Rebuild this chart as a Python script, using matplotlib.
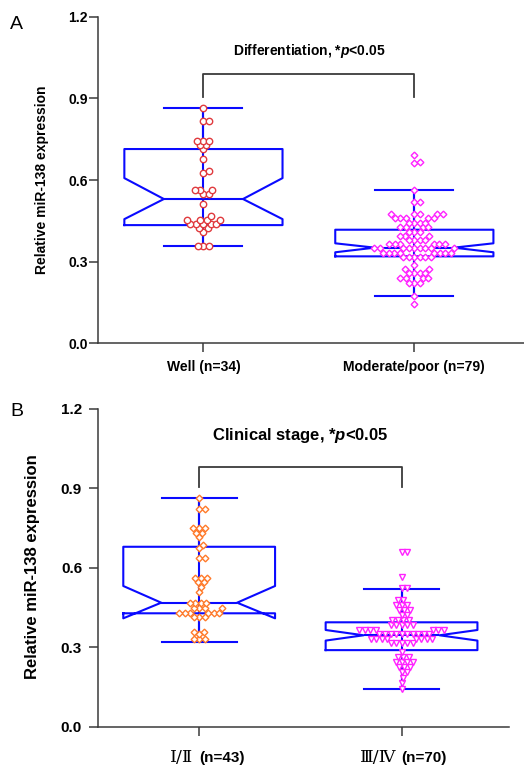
import numpy as np
import matplotlib
matplotlib.use('Agg')
import matplotlib.pyplot as plt

plt.rcParams['font.family'] = ['Liberation Sans', 'DejaVu Sans']
plt.rcParams['mathtext.fontset'] = 'custom'
plt.rcParams['mathtext.it'] = 'Liberation Sans:italic:bold'
plt.rcParams['mathtext.rm'] = 'Liberation Sans:bold'

# ---- data ----
cats_a = ['Well (n=34)', 'Moderate/poor (n=79)']
cats_b_roman = ['Ⅰ/Ⅱ', 'Ⅲ/Ⅳ']
cats_b_n = ['(n=43)', '(n=70)']

well = [0.358, 0.358, 0.358, 0.41, 0.422, 0.422,
        0.438, 0.438, 0.438, 0.438, 0.438,
        0.453, 0.453, 0.453, 0.453, 0.467, 0.512,
        0.547, 0.547, 0.563, 0.563, 0.563,
        0.627, 0.632, 0.677, 0.713, 0.729, 0.729,
        0.745, 0.745, 0.745, 0.818, 0.818, 0.864]

modpoor = [0.143, 0.174,
           0.222, 0.222, 0.222, 0.238, 0.238, 0.238, 0.238,
           0.256, 0.256, 0.256, 0.256, 0.271, 0.271, 0.287,
           0.318, 0.318, 0.318, 0.318, 0.318, 0.318,
           0.333, 0.333, 0.333, 0.333, 0.333, 0.333, 0.333, 0.333,
           0.348, 0.348, 0.348, 0.348, 0.348, 0.348, 0.348, 0.348, 0.348,
           0.364, 0.364, 0.364, 0.364, 0.364, 0.364,
           0.379, 0.379, 0.379, 0.379, 0.394, 0.394, 0.394,
           0.41, 0.41, 0.41, 0.426, 0.426, 0.426, 0.426,
           0.443, 0.443, 0.443, 0.443,
           0.459, 0.459, 0.459, 0.459, 0.459,
           0.474, 0.474, 0.474, 0.474, 0.474,
           0.52, 0.52, 0.563, 0.662, 0.665, 0.692]

stage12 = [0.331, 0.331, 0.331, 0.351, 0.36, 0.36,
           0.416, 0.416, 0.416,
           0.431, 0.431, 0.431, 0.431, 0.431, 0.431,
           0.448, 0.448, 0.448, 0.448, 0.467, 0.467, 0.467, 0.467,
           0.51, 0.529, 0.546, 0.546, 0.563, 0.563, 0.563,
           0.636, 0.636, 0.675, 0.688, 0.716, 0.733, 0.733,
           0.75, 0.75, 0.75, 0.823, 0.823, 0.863]

stage34 = [0.143, 0.165, 0.184,
           0.209, 0.209, 0.227, 0.227, 0.227,
           0.246, 0.246, 0.246, 0.246, 0.265, 0.265, 0.265, 0.284,
           0.316, 0.316, 0.316, 0.316, 0.316,
           0.332, 0.332, 0.332, 0.332, 0.332, 0.332, 0.332, 0.332,
           0.35, 0.35, 0.35, 0.35, 0.35, 0.35, 0.35, 0.35, 0.35, 0.35,
           0.366, 0.366, 0.366, 0.366, 0.366, 0.366, 0.366,
           0.385, 0.385, 0.385, 0.385, 0.385,
           0.404, 0.404, 0.404, 0.404, 0.423, 0.423,
           0.441, 0.441, 0.441, 0.46, 0.46, 0.46, 0.479, 0.479,
           0.523, 0.523, 0.565, 0.659, 0.659]

# box statistics: whislo, q1, cilo, med, cihi, q3, whishi
box_a = [(0.358, 0.434, 0.456, 0.530, 0.607, 0.714, 0.865),
         (0.174, 0.319, 0.334, 0.351, 0.367, 0.417, 0.563)]
box_b = [(0.322, 0.429, 0.410, 0.469, 0.532, 0.680, 0.865),
         (0.145, 0.290, 0.326, 0.346, 0.366, 0.395, 0.521)]

title_a = 'Differentiation, *$p$<0.05'
title_b = 'Clinical stage, *$p$<0.05'
ylab = 'Relative miR-138 expression'

blue = '#0a0aff'
axcol = '#3a3a3a'


def swarm(vals, xs, ys, d):
    # simple beeswarm: x offsets (data units) so markers of d px don't collide
    vals = np.asarray(vals)
    cands = [0.0]
    for s in np.arange(0.5, 80, 0.5):
        cands += [s, -s]
    placed = []
    offs = np.zeros(len(vals))
    for i in np.argsort(vals):
        y = vals[i] * ys
        for c in cands:
            if all((c - px) ** 2 + (y - py) ** 2 >= d * d for px, py in placed):
                break
        placed.append((c, y))
        offs[i] = c / xs
    return offs


def panel(ax, boxes, groups, marks, cols, msz, xs, ys, fs):
    stats = []
    for b in boxes:
        stats.append(dict(whislo=b[0], q1=b[1], cilo=b[2], med=b[3],
                          cihi=b[4], q3=b[5], whishi=b[6], fliers=[]))
    lp = dict(color=blue, lw=1.5)
    ax.bxp(stats, positions=[1, 2], widths=0.75, capwidths=0.37,
           shownotches=True, showfliers=False, boxprops=lp,
           whiskerprops=lp, capprops=lp, medianprops=lp)
    ax.vlines([1, 2], [b[0] for b in boxes], [b[6] for b in boxes],
              color=blue, lw=1.5, zorder=3)
    for k in range(2):
        off = swarm(groups[k], xs, ys, 5.2)
        ax.plot(np.full(len(groups[k]), k + 1) + off, groups[k], ls='none',
                marker=marks[k], mfc='white', mec=cols[k], ms=msz[k],
                mew=1.0, zorder=4)
    for s in ['top', 'right']:
        ax.spines[s].set_visible(False)
    for s in ['left', 'bottom']:
        ax.spines[s].set_color(axcol)
        ax.spines[s].set_linewidth(1.1)
    ax.set_ylim(0, 1.2)
    ax.set_yticks(np.arange(0, 1.21, 0.3))
    ax.set_yticklabels(['%.1f' % v for v in np.arange(0, 1.21, 0.3)],
                       fontweight='bold', fontsize=fs)
    ax.set_xticks([1, 2])
    ax.tick_params(axis='both', length=6.5, width=1.1, color=axcol)


fig = plt.figure(figsize=(5.24, 7.65), dpi=100)

# panel A
ax1 = fig.add_axes([0.187, 0.5516, 0.813, 0.4262])
panel(ax1, box_a, [well, modpoor], ['o', 'D'], ['#e03a3e', '#ff22ff'],
      [4.6, 3.4], 211, 271.7, 10)
ax1.set_xlim(0.5, 2.52)
ax1.set_xticklabels(cats_a, fontweight='bold', fontsize=10)
ax1.tick_params(axis='x', pad=6)
ax1.tick_params(axis='y', pad=1)
ax1.plot([1, 1, 2, 2], [0.904, 0.99, 0.99, 0.904], color=axcol, lw=1.3)
ax1.text(1.5, 1.075, title_a, ha='center', va='center', fontsize=10,
         fontweight='bold')
ax1.set_ylabel(ylab, fontweight='bold', fontsize=10)
ax1.yaxis.set_label_coords(-0.115, 0.5)
fig.text(0.019, 0.968, 'A', fontsize=14, va='center', ha='left')

# panel B
ax2 = fig.add_axes([0.187, 0.0497, 0.784, 0.4157])
panel(ax2, box_b, [stage12, stage34], ['D', 'v'], ['#ff7a2a', '#ff22ff'],
      [3.4, 4.6], 203, 265, 11)
ax2.set_xlim(0.5, 2.53)
ax2.set_xticklabels(['', ''])
ax2.tick_params(axis='y', pad=5)
for k in range(2):
    ax2.annotate(cats_b_roman[k], xy=(k + 1, 0), xycoords=('data', 'axes fraction'),
                 xytext=(-4, -22), textcoords='offset points', ha='right',
                 va='center', fontsize=12.5, family=['DejaVu Serif', 'Noto Sans CJK SC'])
    ax2.annotate(cats_b_n[k], xy=(k + 1, 0), xycoords=('data', 'axes fraction'),
                 xytext=(0, -22), textcoords='offset points', ha='left',
                 va='center', fontsize=11, fontweight='bold')
ax2.plot([1, 1, 2, 2], [0.907, 0.982, 0.982, 0.907], color=axcol, lw=1.3)
ax2.text(1.5, 1.10, title_b, ha='center', va='center', fontsize=12,
         fontweight='bold')
ax2.set_ylabel(ylab, fontweight='bold', fontsize=12)
ax2.yaxis.set_label_coords(-0.141, 0.505)
fig.text(0.019, 0.462, 'B', fontsize=14, va='center', ha='left')

fig.savefig('out.png', dpi=100)
